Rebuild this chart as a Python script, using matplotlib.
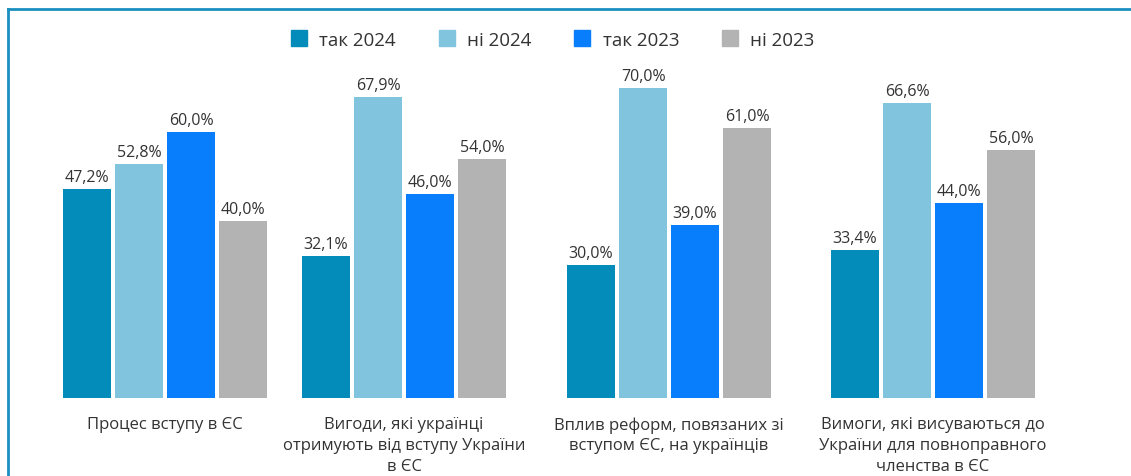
import matplotlib
matplotlib.use("Agg")
import numpy as np
from matplotlib import pyplot as plt
from matplotlib.lines import Line2D

plt.rcParams["font.family"] = ["Open Sans", "DejaVu Sans"]

# data
categories = [
    "Процес вступу в ЄС",
    "Вигоди, які українці\nотримують від вступу України\nв ЄС",
    "Вплив реформ, повязаних зі\nвступом ЄС, на українців",
    "Вимоги, які висуваються до\nУкраїни для повноправного\nчленства в ЄС",
]
series_names = ["так 2024", "ні 2024", "так 2023", "ні 2023"]
tak_2024 = [47.2, 32.1, 30.0, 33.4]
ni_2024 = [52.8, 67.9, 70.0, 66.6]
tak_2023 = [60.0, 46.0, 39.0, 44.0]
ni_2023 = [40.0, 54.0, 61.0, 56.0]
colors = ["#038cba", "#81c4de", "#097efc", "#b3b3b3"]

# layout: group centres (first group sits a bit closer to the second)
group_x = np.array([0.0, 0.934, 1.969, 3.0])

W, H = 1131, 477
fig = plt.figure(figsize=(W / 100, H / 100), dpi=100)
ax = fig.add_axes([37 / W, 78 / H, 1024 / W, 332 / H])

bar_w = 48 / 256
pitch = 52 / 256
values = [tak_2024, ni_2024, tak_2023, ni_2023]
handles = []
for i, (vals, col, name) in enumerate(zip(values, colors, series_names)):
    pos = group_x + (i - 1.5) * pitch
    bars = ax.bar(pos, vals, width=bar_w, color=col, label=name)
    for b, v in zip(bars, vals):
        ax.text(b.get_x() + b.get_width() / 2, v + 0.9,
                f"{v:.1f}%".replace(".", ","),
                ha="center", va="bottom", fontsize=11.5, color="#333333")
    handles.append(Line2D([], [], marker="s", linestyle="", markersize=12,
                          markerfacecolor=col, markeredgecolor=col))

ax.set_xlim(-0.5, 3.5)
ax.set_ylim(0, 75)
ax.set_yticks([])
ax.set_xticks(group_x)
ax.set_xticklabels(categories, fontsize=12, color="#333333", linespacing=1.4)
ax.tick_params(axis="x", length=0, pad=13)
for s in ax.spines.values():
    s.set_visible(False)

fig.legend(handles, series_names, loc="center", bbox_to_anchor=(552 / W, 1 - 41 / H),
           ncol=4, frameon=False, fontsize=13.5, handletextpad=0.6,
           handlelength=1.0, columnspacing=2.2, labelcolor="#333333")

# frame on top and left
border = "#1a8fc0"
fig.add_artist(Line2D([8 / W, 1], [1 - 10 / H, 1 - 10 / H], color=border, lw=2))
fig.add_artist(Line2D([8 / W, 8 / W], [0, 1 - 10 / H], color=border, lw=2))

fig.savefig("out.png", dpi=100)
